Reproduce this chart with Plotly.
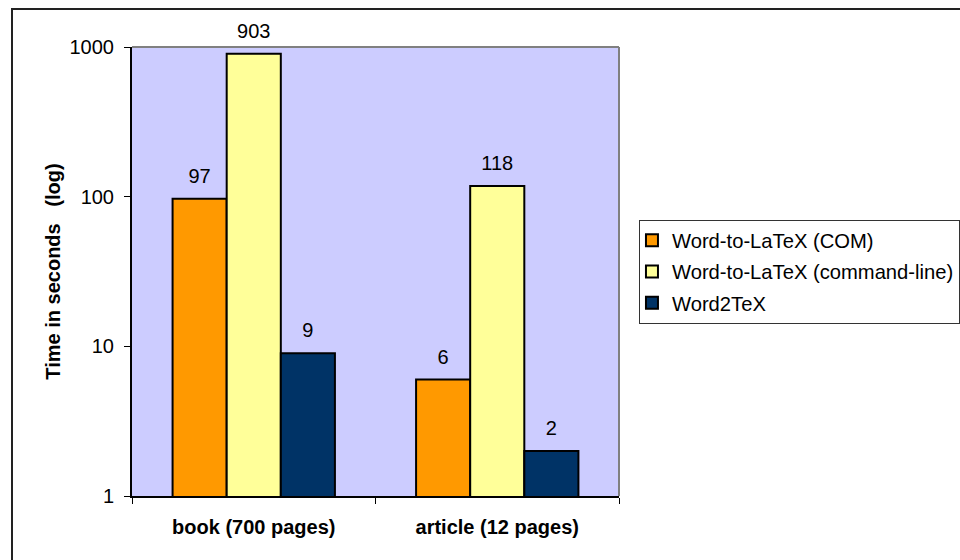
import plotly.graph_objects as go

categories = ["book (700 pages)", "article (12 pages)"]
series_names = ["Word-to-LaTeX (COM)", "Word-to-LaTeX (command-line)", "Word2TeX"]
com_values = [97, 6]
cmdline_values = [903, 118]
word2tex_values = [9, 2]
series_values = [com_values, cmdline_values, word2tex_values]
series_colors = ["#FF9900", "#FFFF99", "#003366"]
y_tick_vals = [1, 10, 100, 1000]
y_tick_text = ["1", "10", "100", "1000"]

FONT = "Arial, Liberation Sans, sans-serif"

fig = go.Figure()
for i, (name, vals, col) in enumerate(zip(series_names, series_values, series_colors)):
    fig.add_trace(go.Bar(
        x=categories, y=vals, name=name,
        marker=dict(color=col, line=dict(color="black", width=2)),
        offsetgroup=str(i), legendgroup=str(i),
        hoverinfo="skip",
    ))
for i, vals in enumerate(series_values):
    fig.add_trace(go.Scatter(
        x=categories, y=vals, mode="markers+text",
        text=[str(v) for v in vals], textposition="top center",
        textfont=dict(family=FONT, size=20, color="black"),
        marker=dict(size=16, opacity=0),
        offsetgroup=str(i), showlegend=False, hoverinfo="skip",
        cliponaxis=False,
    ))

fig.update_layout(
    width=960, height=560,
    margin=dict(l=132, r=341, t=47, b=64, autoexpand=False),
    paper_bgcolor="white", plot_bgcolor="#CCCCFF",
    barmode="group", bargap=1/3, bargroupgap=0,
    scattermode="group", scattergap=1/3,
    font=dict(family=FONT, size=20, color="black"),
    showlegend=True,
    legend=dict(
        x=1.041, xanchor="left", y=0.5, yanchor="middle",
        bordercolor="#333333", borderwidth=1, bgcolor="white",
        font=dict(family=FONT, size=20.2, color="black"),
        tracegroupgap=2, indentation=-8,
    ),
    xaxis=dict(
        showline=True, linecolor="black", linewidth=2,
        ticks="outside", ticklen=6, tickcolor="black", tickwidth=1,
        tickson="boundaries",
        tickfont=dict(family=FONT, size=20, color="black", weight="bold"),
        ticklabelstandoff=12,
        showgrid=False, zeroline=False, fixedrange=True,
    ),
    yaxis=dict(
        type="log", range=[0, 3],
        tickvals=y_tick_vals, ticktext=y_tick_text,
        showline=True, linecolor="black", linewidth=2,
        ticks="outside", ticklen=6, tickcolor="black", tickwidth=1,
        tickfont=dict(family=FONT, size=20, color="black"),
        ticklabelstandoff=6,
        showgrid=False, zeroline=False, fixedrange=True,
        title=dict(text="Time in seconds\u00a0\u00a0\u00a0(log)",
                   font=dict(family=FONT, size=20, color="black", weight="bold"),
                   standoff=4),
    ),
    shapes=[
        dict(type="line", xref="paper", yref="paper", x0=0, x1=1, y0=1, y1=1,
             line=dict(color="#808080", width=2)),
        dict(type="line", xref="paper", yref="paper", x0=1, x1=1, y0=0, y1=1,
             line=dict(color="#808080", width=2)),
        dict(type="rect", xref="paper", yref="paper",
             x0=-0.2464, x1=2, y0=-1, y1=1.0846,
             line=dict(color="#222222", width=2), fillcolor="rgba(0,0,0,0)", layer="below"),
    ],
)

fig.write_html("out.html", config={"displayModeBar": False})
